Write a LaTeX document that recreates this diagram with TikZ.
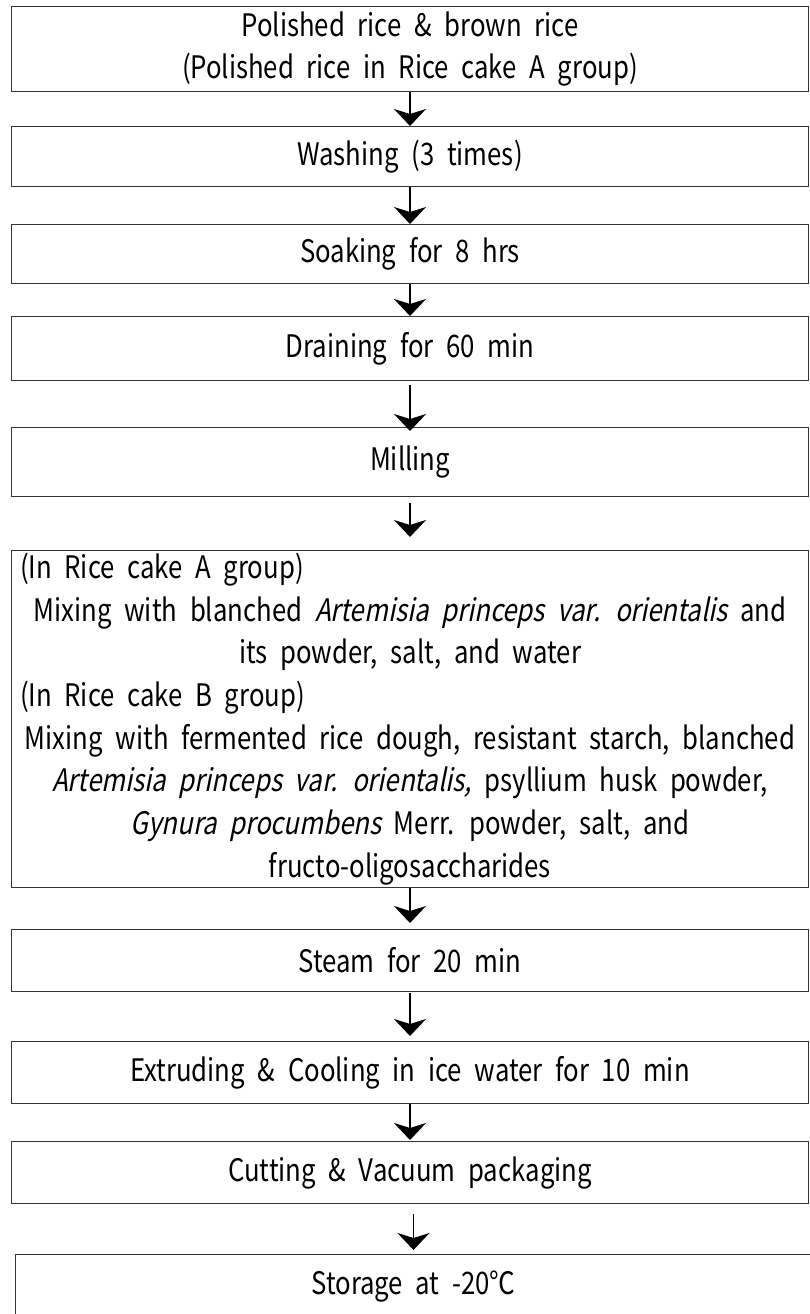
\documentclass[tikz,border=0pt]{standalone}
\usepackage{fontspec}
\setmainfont{Noto Sans CJK KR}[WordSpace=2.2,FakeStretch=0.83,ItalicFont={Noto Sans CJK KR},ItalicFeatures={FakeSlant=0.2}]
\usetikzlibrary{arrows.meta,positioning}
\begin{document}
\begin{tikzpicture}[x=1pt,y=-1pt,
  stepbox/.style={draw=black!80,line width=1.2pt,minimum width=797pt,inner sep=0pt,anchor=north,align=center},
  flow/.style={-{Stealth[length=17pt,width=32pt,inset=5pt]},line width=1.6pt},
  font=\fontsize{31}{42.7}\selectfont]
  \clip (0,0) rectangle (810,1314);
  % Process steps
  \node[stepbox,minimum height=85pt] (rice) at (410,6) {Polished rice \& brown rice\\(Polished rice in Rice cake A group)};
  \node[stepbox,minimum height=60pt] (wash) at (410,126) {Washing (3 times)};
  \node[stepbox,minimum height=59pt] (soak) at (410,224) {Soaking for 8 hrs};
  \node[stepbox,minimum height=64pt] (drain) at (410,316) {Draining for 60 min};
  \node[stepbox,minimum height=69pt] (mill) at (410,427) {Milling};
  \node[stepbox,minimum height=337pt] (mix) at (410,550) {%
    \makebox[780pt][l]{(In Rice cake A group)}\\
    Mixing with blanched \textit{Artemisia princeps var. orientalis} and\\
    its powder, salt, and water\\
    \makebox[780pt][l]{(In Rice cake B group)}\\
    Mixing with fermented rice dough, resistant starch, blanched\\
    \textit{Artemisia princeps var. orientalis,} psyllium husk powder,\\
    \textit{Gynura procumbens} Merr. powder, salt, and\\
    fructo-oligosaccharides};
  \node[stepbox,minimum height=62pt] (steam) at (410,929) {Steam for 20 min};
  \node[stepbox,minimum height=62pt] (extrude) at (410,1041) {Extruding \& Cooling in ice water for 10 min};
  \node[stepbox,minimum height=62pt] (cut) at (410,1141) {Cutting \& Vacuum packaging};
  \node[stepbox,minimum height=64pt,minimum width=796pt] (store) at (413.5,1254) {Storage at -20℃};
  % Arrows (gaps as in the original)
  \foreach \a/\b/\s/\e in {rice/wash/0/0,wash/soak/0/0,soak/drain/0/0,drain/mill/4/-4,mill/mix/6/13,
      mix/steam/0/6,steam/extrude/1/5,extrude/cut/0/1,cut/store/10/4}
    \draw[flow,shorten <=\s pt,shorten >=\e pt] (\a.south -| \b.north) -- (\b.north);
\end{tikzpicture}
\end{document}
